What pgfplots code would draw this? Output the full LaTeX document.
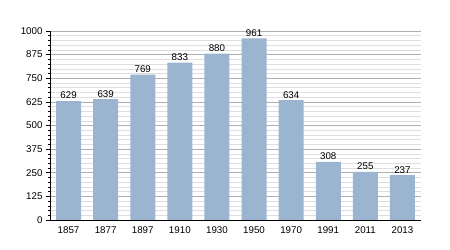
\documentclass[border=0pt]{standalone}
\usepackage{pgfplots}
\pgfplotsset{compat=1.18}
\usepackage{fontspec}
\setmainfont{Liberation Sans}
\definecolor{barc}{RGB}{155,180,207}
\definecolor{majg}{RGB}{175,175,175}
\definecolor{ming}{RGB}{222,222,222}
\begin{document}
\begin{tikzpicture}
\useasboundingbox (0,0) rectangle (450bp,250bp);
\begin{axis}[
  at={(50bp,30bp)}, anchor=south west,
  scale only axis, width=371bp, height=189bp,
  xmin=-0.5, xmax=9.5, ymin=0, ymax=1000,
  xtick=data,
  xticklabels={1857,1877,1897,1910,1930,1950,1970,1991,2011,2013},
  ytick={0,125,250,375,500,625,750,875,1000},
  minor y tick num=4,
  ymajorgrids, yminorgrids,
  major grid style={majg, line width=0.6pt},
  minor grid style={ming, line width=0.5pt},
  axis x line*=bottom, axis y line*=left,
  axis line style={black, line width=0.8pt, -},
  x tick style={draw=none},
  y tick style={black, line width=0.6pt},
  major tick length=4bp, minor tick length=2bp,
  tick align=outside,
  ticklabel style={font=\fontsize{9.8}{11}\selectfont},
  xticklabel style={yshift=1pt},
  /pgf/number format/assume math mode=true,
  /pgf/number format/1000 sep={},
  nodes near coords,
  every node near coord/.append style={font=\fontsize{9.8}{11}\selectfont, black, yshift=-1.5pt},
  bar width=25bp,
]
\addplot[ybar, fill=barc, draw=none] coordinates {
(0,629) (1,639) (2,769) (3,833) (4,880) (5,961) (6,634) (7,308) (8,255) (9,237)};
\end{axis}
\end{tikzpicture}
\end{document}
